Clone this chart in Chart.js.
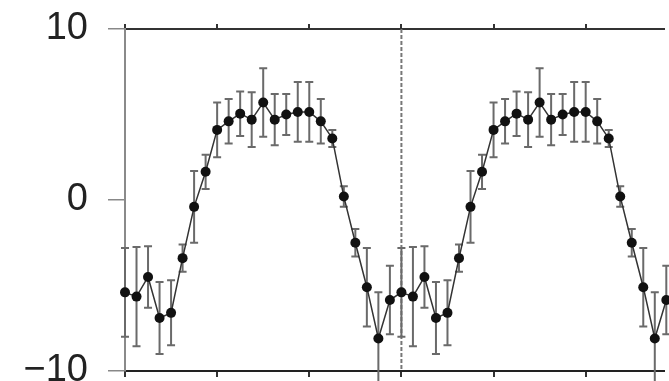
<!DOCTYPE html>
<html>
<head>
<meta charset="utf-8">
<script src="https://cdn.jsdelivr.net/npm/chart.js@4"></script>
<style>
  html, body { margin: 0; padding: 0; background: #fff; }
  #wrap { width: 669px; height: 381px; }
</style>
</head>
<body>
<div id="wrap"><canvas id="lc"></canvas></div>
<script>
// phase-folded light curve, 24 bins, shown over two cycles
const phases = [0, 1/24, 2/24, 3/24, 4/24, 5/24, 6/24, 7/24, 8/24, 9/24, 10/24, 11/24,
                12/24, 13/24, 14/24, 15/24, 16/24, 17/24, 18/24, 19/24, 20/24, 21/24, 22/24, 23/24];
const mags = [-5.4, -5.65, -4.5, -6.9, -6.6, -3.4, -0.4, 1.65, 4.1, 4.6, 5.05, 4.7,
              5.7, 4.7, 5.0, 5.15, 5.15, 4.6, 3.6, 0.2, -2.5, -5.1, -8.1, -5.85];
const errs = [2.6, 2.9, 1.8, 2.1, 1.9, 0.8, 2.1, 1.0, 1.6, 1.3, 1.3, 1.6,
              2.0, 1.5, 1.2, 1.75, 1.75, 1.3, 0.5, 0.6, 0.8, 2.3, 2.7, 2.0];
const cycles = [0, 1];
const xTicks = [0, 1/3, 2/3, 1, 4/3, 5/3];
const yTicks = [-10, 0, 10];

const points = [];
cycles.forEach(c => {
  phases.forEach((p, i) => points.push({ x: p + c, y: mags[i], e: errs[i] }));
});

// error bars under the points
const errorBars = {
  id: 'errorBars',
  beforeDatasetsDraw(chart) {
    const { ctx, scales: { x, y } } = chart;
    ctx.save();
    ctx.strokeStyle = '#6a6a6a';
    ctx.lineWidth = 2;
    points.forEach(pt => {
      const px = x.getPixelForValue(pt.x);
      const top = y.getPixelForValue(pt.y + pt.e);
      const bot = y.getPixelForValue(pt.y - pt.e);
      ctx.beginPath();
      ctx.moveTo(px, top); ctx.lineTo(px, bot);
      ctx.moveTo(px - 4, top); ctx.lineTo(px + 4, top);
      ctx.moveTo(px - 4, bot); ctx.lineTo(px + 4, bot);
      ctx.stroke();
    });
    ctx.restore();
  }
};

// dashed divider at phase 1
const cycleLine = {
  id: 'cycleLine',
  beforeDatasetsDraw(chart) {
    const { ctx, chartArea, scales: { x } } = chart;
    const px = x.getPixelForValue(1);
    ctx.save();
    ctx.strokeStyle = '#777';
    ctx.lineWidth = 2;
    ctx.setLineDash([4, 2]);
    ctx.beginPath();
    ctx.moveTo(px, chartArea.top);
    ctx.lineTo(px, chartArea.bottom);
    ctx.stroke();
    ctx.restore();
  }
};

const setXTicks = s => { s.ticks = xTicks.map(v => ({ value: v })); };

new Chart(document.getElementById('lc'), {
  type: 'line',
  data: {
    datasets: [{
      data: points,
      borderColor: '#333',
      borderWidth: 1.5,
      pointBackgroundColor: '#111',
      pointBorderColor: '#111',
      pointRadius: 5,
      pointBorderWidth: 0,
      clip: false,
      tension: 0
    }]
  },
  options: {
    responsive: true,
    maintainAspectRatio: false,
    animation: false,
    layout: { padding: 0 },
    plugins: { legend: { display: false }, tooltip: { enabled: false } },
    scales: {
      x: {
        type: 'linear', position: 'bottom', min: 0, max: 1.95,
        afterBuildTicks: setXTicks,
        afterFit: s => { s.height = 10; s.paddingLeft = 0; s.paddingRight = 0; },
        ticks: { display: false },
        grid: { drawOnChartArea: false, tickLength: 6, color: '#333', lineWidth: 2 },
        border: { color: '#222', width: 2 }
      },
      x2: {
        type: 'linear', position: 'top', min: 0, max: 1.95,
        afterBuildTicks: setXTicks,
        afterFit: s => { s.height = 29; s.paddingLeft = 0; s.paddingRight = 0; },
        ticks: { display: false },
        grid: { drawOnChartArea: false, tickLength: 5, color: '#333', lineWidth: 2 },
        border: { color: '#333', width: 2 }
      },
      y: {
        min: -10, max: 10,
        afterBuildTicks: s => { s.ticks = yTicks.map(v => ({ value: v })); },
        afterFit: s => { s.width = 125; s.paddingTop = 0; s.paddingBottom = 0; },
        ticks: {
          padding: 20,
          color: '#222',
          font: { family: '"Liberation Sans", Arial, sans-serif', size: 38 },
          callback: v => (v < 0 ? '\u2212' + Math.abs(v) : String(v))
        },
        grid: { drawOnChartArea: false, tickLength: 17, color: '#888', lineWidth: 1.5 },
        border: { color: '#8a8a8a', width: 2 }
      }
    }
  },
  plugins: [cycleLine, errorBars]
});
</script>
</body>
</html>
